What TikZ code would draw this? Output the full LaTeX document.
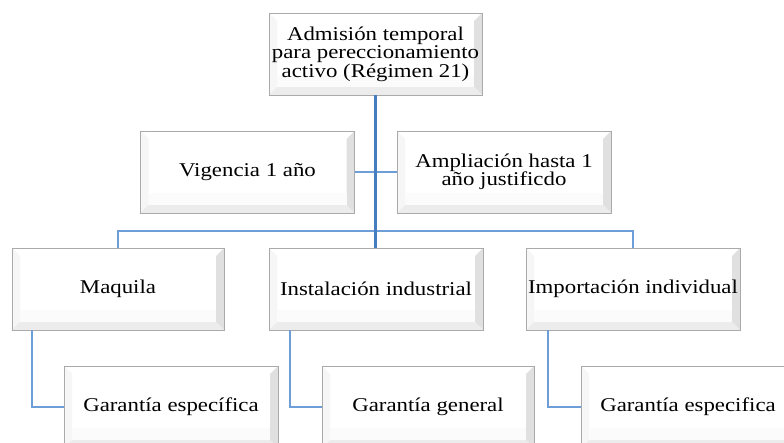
\documentclass[tikz,border=0pt]{standalone}
\usepackage{fontspec}
\setmainfont{Liberation Serif}[FakeStretch=1.17]
\definecolor{trunk}{RGB}{70,125,190}
\definecolor{conn}{RGB}{110,158,215}
\definecolor{boxline}{RGB}{170,170,170}
\tikzset{
  bevbox/.style={draw=boxline, line width=0.8pt, fill=white,
    minimum width=214pt, minimum height=82pt, inner sep=0pt, align=center,
    font=\fontsize{19.5}{18.5}\selectfont,
    path picture={
      \fill[gray!7] (path picture bounding box.south west) -- (path picture bounding box.north west)
        -- ([shift={(8pt,-8pt)}]path picture bounding box.north west) -- ([shift={(8pt,8pt)}]path picture bounding box.south west) -- cycle;
      \fill[gray!24] (path picture bounding box.south east) -- (path picture bounding box.north east)
        -- ([shift={(-8pt,-8pt)}]path picture bounding box.north east) -- ([shift={(-8pt,8pt)}]path picture bounding box.south east) -- cycle;
      \fill[gray!15] (path picture bounding box.south west) -- (path picture bounding box.south east)
        -- ([shift={(-8pt,8pt)}]path picture bounding box.south east) -- ([shift={(8pt,8pt)}]path picture bounding box.south west) -- cycle;
      \fill[gray!3] ([shift={(8pt,8pt)}]path picture bounding box.south west) rectangle ([shift={(-8pt,20pt)}]path picture bounding box.south east);
    }},
  link/.style={draw=conn, line width=2pt},
  trunkline/.style={draw=trunk, line width=2.4pt}
}
\begin{document}
\begin{tikzpicture}[x=1pt,y=-1pt]
\useasboundingbox (0,0) rectangle (784,443);
\clip (0,0) rectangle (784,443);
\node[bevbox, minimum width=213pt] (top) at (375.5,54) {Admisión temporal\\para pereccionamiento\\activo (Régimen 21)};
\node[bevbox] (vig) at (247.5,172) {Vigencia 1 año};
\node[bevbox] (amp) at (504,172) {Ampliación hasta 1\\año justificdo};
\node[bevbox, minimum width=212pt] (maq) at (118,289) {Maquila};
\node[bevbox] (ins) at (376,289) {Instalación industrial};
\node[bevbox] (imp) at (633,289) {Importación individual};
\node[bevbox] (g1) at (171,407) {Garantía específica};
\node[bevbox, minimum width=212pt] (g2) at (428,407) {Garantía general};
\node[bevbox] (g3) at (688,407) {Garantía especifica};
\coordinate (bus) at (376,231);
% connectors
\draw[link] (maq.north) -- (maq.north |- bus) -- (imp.north |- bus) -- (imp.north);
\draw[link] (vig.east) -- (vig.east -| top.south);
\draw[link] (amp.west) -- (amp.west -| top.south);
\draw[trunkline] (top.south) -- (top.south |- ins.north);
\draw[link] ([xshift=20pt]maq.south west) |- (g1.west);
\draw[link] ([xshift=21pt]ins.south west) |- (g2.west);
\draw[link] ([xshift=22pt]imp.south west) |- (g3.west);
\end{tikzpicture}
\end{document}
